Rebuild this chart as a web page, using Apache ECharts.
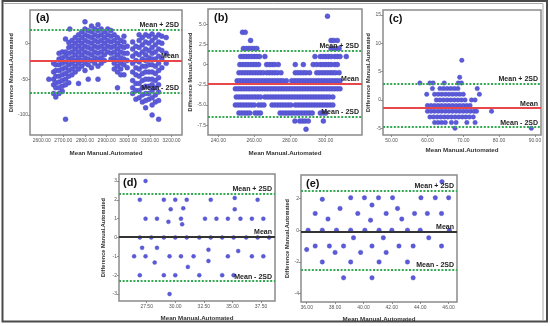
<!DOCTYPE html>
<html><head><meta charset="utf-8">
<script src="https://cdn.jsdelivr.net/npm/echarts@6/dist/echarts.min.js"></script>
<style>html,body{margin:0;padding:0;background:#fff}#c{width:550px;height:326px}</style>
</head><body><div id="c"></div><script>
// ---------- DATA ----------
// Panel (a): columns [x, [y values]]
const aCols = [
 [2633,[-50]],
 [2655,[-28,-40,-50,-58,-70]],
 [2665,[-30,-38,-46,-55,-62,-75]],
 [2680,[-14,-22,-30,-38,-46,-54,-62,-70]],
 [2695,[-12,-20,-28,-36,-44,-52,-60,-67]],
 [2710,[6,-12,-18,-26,-34,-42,-50,-58,-106]],
 [2725,[1,-6,-14,-22,-30,-38,-46,-55]],
 [2730,[20]],
 [2740,[4,-4,-12,-20,-28,-36,-44]],
 [2755,[8,0,-8,-16,-24,-32,-40]],
 [2770,[12,4,-4,-12,-20,-28,-36,-56]],
 [2785,[16,8,0,-8,-16,-24,-32]],
 [2800,[30,20,12,4,-4,-12,-20,-28,-38]],
 [2815,[18,10,2,-6,-14,-22,-30,-50]],
 [2830,[24,16,8,0,-8,-16,-24,-34]],
 [2845,[20,12,4,-4,-12,-20,-28]],
 [2860,[26,18,10,2,-6,-14,-22,-32,-50]],
 [2875,[20,12,4,-4,-12,-20,-28]],
 [2890,[16,8,0,-8,-16,-24]],
 [2905,[20,12,4,-4,-12]],
 [2920,[18,10,2,-6,-14,-22]],
 [2935,[12,4,-4,-12,-20,-28,-36]],
 [2950,[8,0,-8,-16,-24,-32,-40,-62]],
 [2965,[4,-4,-12,-20,-28,-36,-44]],
 [2980,[10,2,-6,-14,-22,-30,-44]],
 [2995,[-4,-14,-24,-34]],
 [3020,[2,-8,-18,-28,-40,-52,-62,-70]],
 [3035,[-4,-14,-24,-34,-44,-56,-66,-78]],
 [3050,[12,4,-6,-16,-26,-36,-46,-56,-66,-76]],
 [3065,[8,-2,-12,-22,-32,-42,-52,-62,-72,-82]],
 [3080,[12,2,-8,-16,-24,-32,-40,-50,-60,-70,-80,-90]],
 [3095,[10,0,-10,-20,-30,-40,-50,-60,-70,-78]],
 [3110,[13,4,-6,-14,-22,-30,-40,-50,-58,-66,-76,-86,-100]],
 [3125,[8,-2,-12,-22,-32,-42,-52,-62,-72,-82]],
 [3140,[12,2,-8,-18,-28,-38,-48,-58,-68,-80,-106]],
 [3155,[10,0,-10,-22,-34]],
 [3175,[8,-14,-28]]
];
const aLines = [-24.7, 19.6, -69];          // mean, +2SD, -2SD
const aXTicks = [2600,2700,2800,2900,3000,3100,3200];
const aYTicks = [-100,-50,0];

// Panel (b): rows [y, [x values]]
const bRows = [
 [6,[301]],
 [4,[253.5,255]],
 [3,[258,303,304.5,306.5]],
 [2,[254,255.5,257,258.5,260,261.5,303,304.5,306,307.5]],
 [1,[252.5,254,255.5,257,258.5,260,261.5,263,266,294,297,298.5,300,301.5,303,305,306.5,308,311.5]],
 [0,[252,253.5,255,256.5,258,259.5,261,262.5,267,268.5,270,271.5,273.5,283,287.5,293,295,297,298.5,300,301.5,303,305,306.5]],
 [-1,[251.5,253,254.5,256,257.5,259,260.5,262,263.5,265,267,268.5,270,271.5,273,275,283,284.5,286,287.5,289,291,295,296.5,298,299.5,301,302.5,304,305.5,307.5]],
 [-2,[250.5,252,253.5,255,256.5,258,259.5,261,262.5,264,265.5,267,268.5,270,271.5,273,274.5,276,278,281,282.5,284,285.5,287,288.5,290,291.5,293,294.5,296,297.5,299,300.5,302,303.5,305,306.5,308]],
 [-3,[249.5,251,252.5,254,255.5,257,258.5,260,261.5,263,264.5,266,267.5,269,270.5,272,273.5,275,276.5,278,279.5,281,282.5,284,285.5,287,288.5,290,291.5,293,294.5,296,297.5,299,300.5,302,303.5,305,306.5,308]],
 [-4,[250,251.5,253,254.5,256,257.5,259,260.5,262,263.5,266,267.5,269,270.5,272,273.5,275,276.5,278,279.5,281,282.5,284,285.5,287,288.5,290,291.5,293,294.5,296,297.5,299,300.5,302,304]],
 [-5,[249.5,251,252.5,254,255.5,257,258.5,260,262.5,264,265.5,270,271.5,273,274.5,276,277.5,279,280.5,283,284.5,286,287.5,289,290.5,292,293.5,295,296.5,298,299.5,301,302.5,304]],
 [-6,[251.5,253,254.5,256,257.5,260.5,262,263.5,274.5,276,277.5,279,280.5,282,283.5,285,286.5,288,289.5,291,292.5,297,298.5,300]],
 [-7,[282.8,285.5,287,288.5,290.3,298.7]],
 [-8,[289]]
];
const bLines = [-2.35, 1.69, -6.4];
const bXTicks = [240,260,280,300];
const bYTicks = [-7.5,-5,-2.5,0,2.5,5];

// Panel (c): rows [y, [x values]]
const cRows = [
 [7,[69.6]],
 [4,[69]],
 [3,[57.9,60.7,61.6,64.7,68.6,69.5]],
 [2,[61.4,63.5,64.5,65.5,66.5,67.5,68.5,73.9]],
 [1,[59.8,62,63,64,65,66,67,68,69,70,74.5]],
 [0,[62.5,63.5,64.5,65.5,66.5,67.5,68.5,69.5,70.5,72.3,73.3]],
 [-1,[60,61,62,63,64,65,66,67,68,69,70,71,71.9]],
 [-2,[60,61,62,63,64,65,66,67,68,69,70,71,72,73,73.7,77.9]],
 [-3,[60.7,61.7,62.7,63.7,64.7,65.7,66.7,67.7,68.7,69.7,70.7,71.7,72.8]],
 [-4,[62,63,64,65,66.7,68,71,73.3]],
 [-5,[67.7,89]]
];
const cLines = [-1.47, 2.94, -4.82];
const cXTicks = [50,60,70,80,90];
const cYTicks = [-5,0,5,10,15];

// Panel (d): points [x, y]
const dPoints = [
 [27.4,3.0],
 [26.9,2],[29.0,2],[30.0,2],[31.0,2],[33.1,2],[35.2,2.1],[37.2,2],
 [29.6,1.5],[30.7,1.55],[35.2,1.5],
 [27.4,1],[28.4,1],[30.5,1],[32.6,1],[33.6,1],[34.6,1],[35.7,1],[36.7,1],[37.7,1],[29.4,0.83],[30.6,0.7],
 [26.9,0],[27.9,0],[29.0,0],[30.0,0],[31.0,0],[32.1,0],[33.1,0],[34.1,0],[35.1,0],[36.2,0],[37.2,0],[38.2,0],
 [27.1,-0.55],[28.4,-0.55],[32.9,-0.65],[35.5,-0.72],
 [26.4,-1],[27.4,-1],[29.5,-1],[30.5,-1],[31.6,-1],[34.6,-1],[36.7,-1],[37.7,-1],
 [28.2,-1.33],[32.9,-1.25],[31.1,-1.56],
 [26.9,-2],[29.0,-2],[30.0,-2],[32.1,-2],[34.1,-2],[35.1,-2],
 [29.5,-3]
];
const dLines = [0.03, 2.32, -2.32];
const dXTicks = [27.5,30,32.5,35,37.5];
const dYTicks = [-3,-2,-1,0,1,2,3];

// Panel (e): points [x, y]
const ePoints = [
 [45.53,3.05],
 [39.1,2.04],[40.07,2.04],[41.06,2.04],[42.05,2.04],[44.05,2.04],[45.06,2.04],[46.0,2.04],[37.1,1.94],
 [40.6,1.58],[38.35,1.37],[42.4,1.37],
 [36.6,1.05],[39.6,1.05],[41.6,1.05],[43.6,1.05],[44.5,1.05],[45.5,1.05],
 [37.5,0.7],[42.7,0.7],[40.5,0.63],
 [36.1,0],[37.1,0],[38.1,0],[39.1,0],[40.1,0],[41.1,0],[42.0,0],[43.1,0],[44.0,0],[46.05,0],
 [39.3,-0.48],[41.4,-0.48],[44.6,-0.48],
 [36.6,-1],[37.6,-1],[38.6,-1],[40.6,-1],[42.5,-1],[43.5,-1],[45.5,-1],
 [36.0,-1.22],[38.0,-1.4],[39.8,-1.4],[41.6,-1.4],
 [37.1,-2],[39.1,-2],[41.1,-2],[43.1,-2],
 [38.6,-3],[40.6,-3],[43.5,-3]
];
const eLines = [-0.1, 2.48, -2.48];
const eXTicks = [36,38,40,42,44,46];
const eYTicks = [-4,-2,0,2];

// ---------- BUILD ----------
const aPoints = [];
aCols.forEach(c => c[1].forEach(y => aPoints.push([c[0], y])));
const bPoints = [];
bRows.forEach(r => r[1].forEach(x => bPoints.push([x, r[0]])));
const cPoints = [];
cRows.forEach(r => r[1].forEach(x => cPoints.push([x, r[0]])));

const FONT = 'Liberation Sans, Arial, sans-serif';
const grids = [], xAxes = [], yAxes = [], series = [], graphics = [];

function panel(i, p) {
  grids.push({left:p.box[0], top:p.box[1], width:p.box[2], height:p.box[3], show:true,
    borderColor:'#8a8a8a', borderWidth:1.5, backgroundColor:'#fff'});
  xAxes.push({gridIndex:i, type:'value', min:p.xr[0], max:p.xr[1], position:'bottom',
    axisLine:{show:false, onZero:false}, splitLine:{show:false},
    axisTick:{show:true, length:2, customValues:p.xt, lineStyle:{color:'#777', width:0.8}},
    axisLabel:{customValues:p.xt, fontSize:5, color:'#555', margin:3, fontFamily:FONT,
      formatter: v => v.toFixed(2)},
    name:'Mean Manual.Automated', nameLocation:'middle', nameGap:p.xg,
    nameTextStyle:{fontSize:6.2, fontWeight:'bold', color:'#333', fontFamily:FONT}});
  yAxes.push({gridIndex:i, type:'value', min:p.yr[0], max:p.yr[1], position:'left',
    axisLine:{show:false, onZero:false}, splitLine:{show:false},
    axisTick:{show:true, length:2, customValues:p.yt, lineStyle:{color:'#777', width:0.8}},
    axisLabel:{customValues:p.yt, fontSize:5, color:'#555', margin:2, fontFamily:FONT,
      formatter: v => p.yf(v)},
    name:'Difference Manual.Automated', nameLocation:'middle', nameGap:p.yg,
    nameTextStyle:{fontSize:5.6, fontWeight:'bold', color:'#333', fontFamily:FONT}});
  const lab = {show:true, position:'insideEndTop', fontSize:7, fontWeight:'bold', color:'#222',
    fontFamily:FONT, distance:[3,1]};
  const green = {color:'#34a853', type:[2,1.6], width:1.8};
  series.push({type:'scatter', xAxisIndex:i, yAxisIndex:i, data:p.data, symbolSize:p.ms,
    itemStyle:{color:'#5b5bd9', borderColor:'#4a4ac4', borderWidth:0.4, opacity:1},
    silent:true, animation:false,
    markLine:{silent:true, symbol:['none','none'], animation:false,
      data:[
        {yAxis:p.lines[0], lineStyle:{color:p.meanColor, type:'solid', width:1.8}, label:Object.assign({}, lab, {formatter:'Mean'})},
        {yAxis:p.lines[1], lineStyle:green, label:Object.assign({}, lab, {formatter:'Mean + 2SD'})},
        {yAxis:p.lines[2], lineStyle:green, label:Object.assign({}, lab, {formatter:'Mean - 2SD'})}
      ]}});
  graphics.push({type:'text', left:p.lbl[0], top:p.lbl[1], z:100,
    style:{text:p.name, font:'bold 11px ' + FONT, fill:'#111'}});
}

panel(0, {name:'(a)', box:[30,10,152,125], xr:[2546,3248], yr:[-128,46.5], xt:aXTicks, yt:aYTicks,
  yf:v=>String(v), data:aPoints, lines:aLines, meanColor:'#e8474c', ms:5, xg:15, yg:14, lbl:[36,12]});
panel(1, {name:'(b)', box:[208,9,154,126], xr:[234.2,320.3], yr:[-8.72,6.89], xt:bXTicks, yt:bYTicks,
  yf:v=>(v===0?'0':v.toFixed(1)), data:bPoints, lines:bLines, meanColor:'#e8474c', ms:5, xg:15, yg:11, lbl:[214,12]});
panel(2, {name:'(c)', box:[383,10,158,125], xr:[47.6,91.7], yr:[-6.2,15.9], xt:cXTicks, yt:cYTicks,
  yf:v=>String(v), data:cPoints, lines:cLines, meanColor:'#e8474c', ms:4.5, xg:12, yg:7, lbl:[389,13]});
panel(3, {name:'(d)', box:[119,174,156,127], xr:[25.08,38.72], yr:[-3.37,3.37], xt:dXTicks, yt:dYTicks,
  yf:v=>String(v), data:dPoints, lines:dLines, meanColor:'#333', ms:4, xg:14, yg:13, lbl:[123,177]});
panel(4, {name:'(e)', box:[301,175,156,127], xr:[35.6,46.59], yr:[-4.52,3.47], xt:eXTicks, yt:eYTicks,
  yf:v=>String(v), data:ePoints, lines:eLines, meanColor:'#333', ms:4.5, xg:14, yg:9, lbl:[306,178]});

// outer frame
graphics.push({type:'rect', shape:{x:2.5, y:1, width:544.5, height:320.5}, z:-1,
  style:{fill:'none', stroke:'#4a4a4a', lineWidth:2}, silent:true});
graphics.push({type:'polyline', shape:{points:[[4,3.5],[543,3.5],[543,320]]}, z:-1,
  style:{fill:'none', stroke:'#aaa', lineWidth:1}, silent:true});

const chart = echarts.init(document.getElementById('c'), null, {renderer:'canvas'});
chart.setOption({
  animation:false, backgroundColor:'#fff',
  grid:grids, xAxis:xAxes, yAxis:yAxes, series:series, graphic:graphics
});
</script></body></html>
